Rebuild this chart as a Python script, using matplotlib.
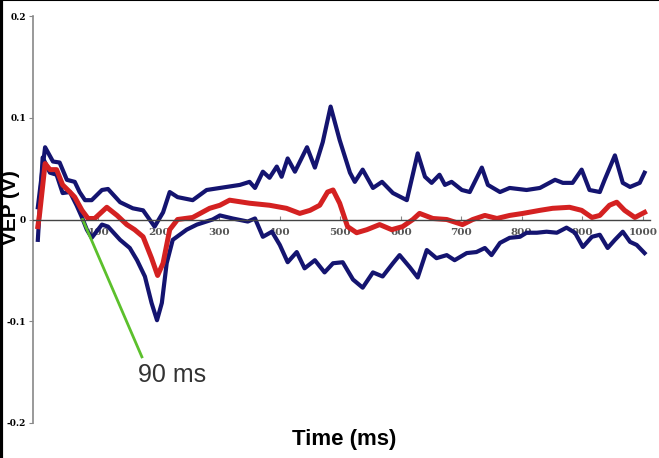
import matplotlib.pyplot as plt
from matplotlib.lines import Line2D

plt.rcParams['font.family'] = ['Liberation Sans', 'DejaVu Sans']

# upper bound (blue)
upper_t = [0, 12, 25, 36, 48, 61, 69, 78, 89, 106, 116, 136, 157, 174, 193, 207, 218, 231,
           256, 279, 301, 334, 350, 359, 372, 383, 395, 403, 413, 425, 445, 458, 471, 484,
           499, 516, 524, 537, 554, 569, 587, 610, 628, 640, 651, 664, 673, 684, 701, 714,
           734, 744, 764, 780, 808, 830, 855, 868, 884, 899, 912, 929, 937, 954, 967, 979,
           995, 1003]
upper_v = [0.012, 0.071, 0.057, 0.056, 0.039, 0.037, 0.027, 0.019, 0.019, 0.029, 0.030, 0.017,
           0.011, 0.009, -0.007, 0.007, 0.027, 0.022, 0.019, 0.029, 0.031, 0.034, 0.037, 0.031,
           0.047, 0.041, 0.052, 0.042, 0.060, 0.047, 0.071, 0.051, 0.076, 0.111, 0.078, 0.046,
           0.037, 0.049, 0.031, 0.037, 0.026, 0.019, 0.065, 0.042, 0.036, 0.044, 0.034, 0.037,
           0.029, 0.027, 0.051, 0.034, 0.027, 0.031, 0.029, 0.031, 0.039, 0.036, 0.036, 0.049,
           0.029, 0.027, 0.039, 0.063, 0.036, 0.032, 0.036, 0.046]

# lower bound (blue)
lower_t = [0, 8, 20, 31, 41, 53, 64, 73, 81, 89, 106, 116, 136, 152, 164, 177, 188, 197, 205,
           213, 223, 246, 263, 289, 301, 322, 347, 359, 372, 387, 400, 413, 428, 441, 458, 474,
           488, 504, 521, 537, 554, 570, 587, 598, 615, 628, 643, 659, 676, 689, 709, 725, 739,
           750, 764, 780, 797, 808, 825, 841, 858, 874, 888, 901, 916, 929, 942, 954, 967, 979,
           990, 1003]
lower_v = [-0.020, 0.061, 0.046, 0.044, 0.026, 0.027, 0.014, 0.002, -0.010, -0.018, -0.005,
           -0.007, -0.020, -0.028, -0.040, -0.056, -0.082, -0.099, -0.082, -0.043, -0.020,
           -0.010, -0.005, 0.000, 0.004, 0.001, -0.002, 0.001, -0.017, -0.012, -0.025, -0.042,
           -0.032, -0.048, -0.040, -0.052, -0.043, -0.042, -0.059, -0.067, -0.052, -0.056,
           -0.043, -0.035, -0.047, -0.057, -0.030, -0.038, -0.035, -0.040, -0.033, -0.032,
           -0.028, -0.035, -0.023, -0.018, -0.017, -0.013, -0.013, -0.012, -0.013, -0.008,
           -0.013, -0.027, -0.017, -0.015, -0.028, -0.020, -0.012, -0.022, -0.025, -0.033]

# mean VEP (red)
mean_t = [0, 3, 12, 20, 31, 41, 53, 61, 73, 83, 94, 114, 131, 147, 160, 174, 188, 198, 207,
          218, 231, 256, 284, 301, 317, 350, 383, 411, 433, 450, 466, 479, 488, 499, 512, 527,
          544, 565, 585, 603, 620, 631, 653, 676, 702, 719, 739, 759, 780, 802, 830, 851, 879,
          899, 916, 929, 945, 957, 970, 987, 1003]
mean_v = [-0.007, 0.006, 0.055, 0.049, 0.049, 0.034, 0.027, 0.022, 0.009, 0.001, 0.001, 0.012,
          0.004, -0.005, -0.010, -0.017, -0.038, -0.055, -0.043, -0.010, 0.000, 0.002, 0.011,
          0.014, 0.019, 0.016, 0.014, 0.011, 0.006, 0.009, 0.014, 0.027, 0.029, 0.016, -0.007,
          -0.013, -0.010, -0.005, -0.010, -0.007, 0.000, 0.006, 0.001, 0.000, -0.005, 0.000,
          0.004, 0.001, 0.004, 0.006, 0.009, 0.011, 0.012, 0.009, 0.002, 0.004, 0.014, 0.017,
          0.009, 0.002, 0.007]

xticks = [100, 200, 300, 400, 500, 600, 700, 800, 900, 1000]
yticks = [-0.2, -0.1, 0, 0.1, 0.2]
ytick_labels = ['-0.2', '-0.1', '0', '0.1', '0.2']

fig = plt.figure(figsize=(6.59, 4.58), dpi=100)
ax = fig.add_axes([33 / 659, 35 / 458, 617 / 659, 407 / 458])

ax.plot(upper_t, upper_v, color='#141470', lw=3.0, solid_joinstyle='round')
ax.plot(lower_t, lower_v, color='#141470', lw=3.0, solid_joinstyle='round')
ax.plot(mean_t, mean_v, color='#d42121', lw=3.6, solid_joinstyle='round')

# 90 ms marker
ax.plot([74, 172], [0.0, -0.135], color='#5cc02c', lw=2)
ax.text(166, -0.153, '90 ms', fontsize=18, color='#333333', ha='left', va='center')

ax.set_xlim(-8, 1012)
ax.set_ylim(-0.2, 0.2)

for s in ['top', 'right']:
    ax.spines[s].set_visible(False)
ax.spines['left'].set_color('#888888')
ax.spines['left'].set_linewidth(1.2)
ax.spines['bottom'].set_position(('data', 0))
ax.spines['bottom'].set_color('#444444')
ax.spines['bottom'].set_linewidth(1)

ax.set_yticks(yticks)
ax.set_yticklabels(ytick_labels, fontsize=6.5, fontweight='bold', family='DejaVu Serif')
ax.set_xticks(xticks)
ax.set_xticklabels([str(x) for x in xticks], fontsize=7.5, fontweight='bold',
                   family='DejaVu Serif', color='#555555')
ax.tick_params(axis='y', length=3, color='#888888', pad=2)
ax.tick_params(axis='x', direction='in', length=3, color='#888888', pad=6)

fig.text(11 / 659, 1 - 208 / 458, 'VEP (V)', rotation=90, fontsize=15, fontweight='bold',
         ha='center', va='center')
fig.text(344 / 659, 1 - 440 / 458, 'Time (ms)', fontsize=16, fontweight='bold',
         ha='center', va='center')

# black frame edges from the scan
fig.add_artist(Line2D([0.002, 0.002], [0, 1], color='black', lw=3, transform=fig.transFigure))
fig.add_artist(Line2D([0, 1], [0.999, 0.999], color='black', lw=1.5, transform=fig.transFigure))

fig.savefig('out.png', dpi=100)
